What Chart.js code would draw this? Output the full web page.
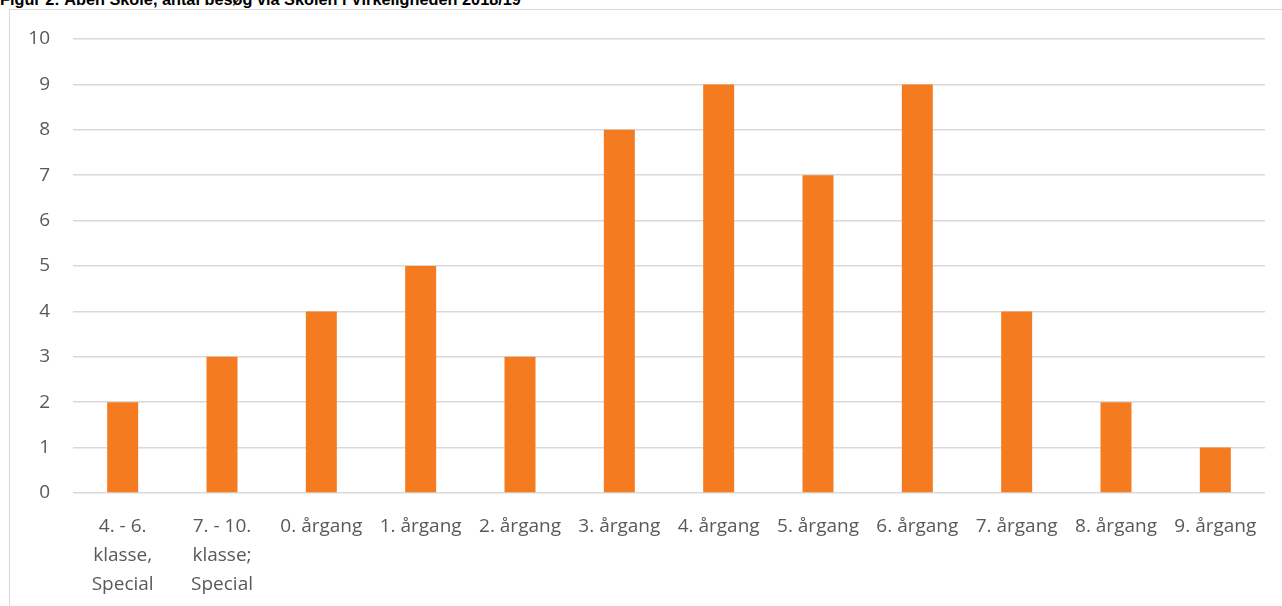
<!DOCTYPE html>
<html>
<head>
<meta charset="utf-8">
<script src="https://cdn.jsdelivr.net/npm/chart.js@4"></script>
<style>
html,body{margin:0;padding:0;background:#fff;overflow:hidden;}
#wrap{position:relative;width:1282px;height:606px;}
#title{position:absolute;left:0;top:-10px;font-family:"Liberation Sans",Arial,sans-serif;font-weight:bold;font-size:16.3px;color:#000;white-space:nowrap;}
#frame{position:absolute;left:9px;top:9px;width:1290px;height:620px;border:1.5px solid #d9d9d9;box-sizing:border-box;}
#c{position:absolute;left:0;top:0;}
</style>
</head>
<body>
<div id="wrap">
<div id="title">Figur 2: Åben Skole, antal besøg via Skolen i Virkeligheden 2018/19</div>
<div id="frame"></div>
<canvas id="c" width="1282" height="606"></canvas>
</div>
<script>
const categories = [
  ["4. - 6.", "klasse,", "Special"],
  ["7. - 10.", "klasse;", "Special"],
  "0. årgang", "1. årgang", "2. årgang", "3. årgang", "4. årgang",
  "5. årgang", "6. årgang", "7. årgang", "8. årgang", "9. årgang"
];
const visits = [2, 3, 4, 5, 3, 8, 9, 7, 9, 4, 2, 1];
const yTicks = [0,1,2,3,4,5,6,7,8,9,10];

const font = {family: "'Open Sans', 'Noto Sans', sans-serif", size: 19};
new Chart(document.getElementById('c'), {
  type: 'bar',
  data: {
    labels: categories,
    datasets: [{
      data: visits,
      backgroundColor: '#f47b20',
      borderWidth: 0,
      categoryPercentage: 1,
      barPercentage: 0.312
    }]
  },
  options: {
    responsive: false,
    animation: false,
    devicePixelRatio: 1,
    layout: {padding: {left: 0, top: 39, right: 17, bottom: 0}},
    plugins: {legend: {display: false}, tooltip: {enabled: false}, title: {display: false}},
    scales: {
      x: {
        grid: {display: false},
        border: {display: false},
        ticks: {color: '#595959', font: {...font, lineHeight: 1.53}, maxRotation: 0, autoSkip: false, padding: 11},
        afterFit: s => { s.height = 113; }
      },
      y: {
        min: 0, max: 10,
        afterBuildTicks: s => { s.ticks = yTicks.map(v => ({value: v})); },
        grid: {color: '#d9d9d9', lineWidth: 1.5, drawTicks: false},
        border: {display: false},
        ticks: {color: '#595959', font: font, padding: 23},
        afterFit: s => { s.width = 73; }
      }
    }
  }
});
</script>
</body>
</html>
